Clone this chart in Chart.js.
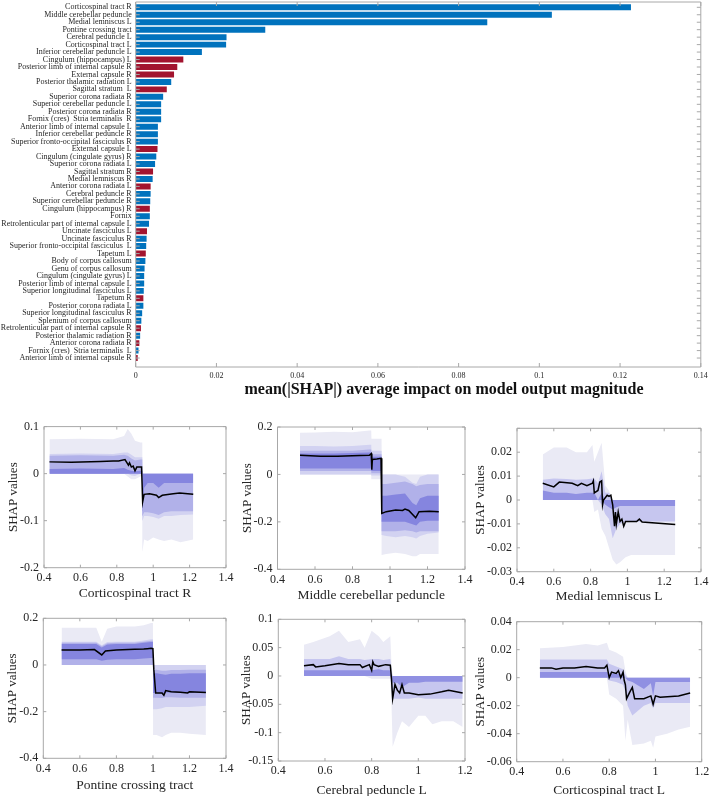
<!DOCTYPE html>
<html><head><meta charset="utf-8">
<script src="https://cdn.jsdelivr.net/npm/chart.js@4/dist/chart.umd.min.js"></script>
<style>
html,body{margin:0;padding:0;background:#fff;}
#wrap{position:relative;width:709px;height:796px;overflow:hidden;background:#fff;}
canvas{position:absolute;}
#barTitle{position:absolute;left:444px;top:389px;transform:translate(-50%,-50%);white-space:nowrap;
 font:bold 16px 'Liberation Serif','Times New Roman',serif;color:#111;}
</style></head><body>
<div id="wrap">
<canvas id="bar" width="709" height="400" style="left:0;top:0"></canvas>
<div id="barTitle">mean(|SHAP|) average impact on model output magnitude</div>
<canvas id="p1"></canvas><canvas id="p2"></canvas><canvas id="p3"></canvas>
<canvas id="p4"></canvas><canvas id="p5"></canvas><canvas id="p6"></canvas>
</div>
<script>
// ---------- bar chart data ----------
const featureNames = [
 "Corticospinal tract R","Middle cerebellar peduncle","Medial lemniscus L","Pontine crossing tract",
 "Cerebral peduncle L","Corticospinal tract L","Inferior cerebellar peduncle L","Cingulum (hippocampus) L",
 "Posterior limb of internal capsule R","External capsule R","Posterior thalamic radiation L","Sagittal stratum  L",
 "Superior corona radiata R","Superior cerebellar peduncle L","Posterior corona radiata R","Fornix (cres)  Stria terminalis  R",
 "Anterior limb of internal capsule L","Inferior cerebellar peduncle R","Superior fronto-occipital fasciculus R","External capsule L",
 "Cingulum (cingulate gyrus) R","Superior corona radiata L","Sagittal stratum R","Medial lemniscus R",
 "Anterior corona radiata L","Cerebral peduncle R","Superior cerebellar peduncle R","Cingulum (hippocampus) R",
 "Fornix","Retrolenticular part of internal capsule L","Uncinate fasciculus L","Uncinate fasciculus R",
 "Superior fronto-occipital fasciculus  L","Tapetum L","Body of corpus callosum","Genu of corpus callosum",
 "Cingulum (cingulate gyrus) L","Posterior limb of internal capsule L","Superior longitudinal fasciculus L","Tapetum R",
 "Posterior corona radiata L","Superior longitudinal fasciculus R","Splenium of corpus callosum","Retrolenticular part of internal capsule R",
 "Posterior thalamic radiation R","Anterior corona radiata R","Fornix (cres)  Stria terminalis  L","Anterior limb of internal capsule R"];
const meanAbsShap = [0.1227,0.1031,0.0871,0.0321,0.0225,0.0224,0.0164,0.0118,0.0103,0.0095,0.0088,0.0077,
 0.0068,0.0063,0.0063,0.0063,0.0055,0.0055,0.0055,0.0054,0.0051,0.0048,0.0043,0.0042,
 0.0037,0.0037,0.0036,0.0035,0.0035,0.0033,0.0028,0.0027,0.0026,0.0025,0.0024,0.0022,
 0.0021,0.0021,0.0020,0.0019,0.0019,0.0016,0.0014,0.0013,0.0011,0.0009,0.0007,0.0005];
const barGroup = [0,0,0,0,0,0,0,1,1,1,0,1,0,0,0,0,0,0,0,1,0,0,1,0,1,0,0,1,0,0,1,0,0,1,0,0,0,0,0,1,0,0,0,1,0,1,0,1];
const groupColors = ['#0072BD','#A2142F'];
const barTicks = [0,0.02,0.04,0.06,0.08,0.1,0.12,0.14];

// ---------- dependence panels ----------
// Panel 1: Corticospinal tract R
const p1X = [0.43,0.6,0.78,0.84,0.86,0.88,0.9,0.93,0.94,0.941,0.95,0.97,1.0,1.03,1.06,1.1,1.15,1.22];
const p1OuterHi = [0.073,0.074,0.073,0.08,0.095,0.085,0.07,0.066,0.066,0,0,0,0,0,0,0,0,0];
const p1OuterLo = [0,0,0,0,-0.006,-0.012,-0.012,-0.006,-0.004,-0.165,-0.14,-0.143,-0.136,-0.14,-0.143,-0.14,-0.146,-0.14];
const p1MidHi = [0.042,0.043,0.042,0.045,0.045,0.04,0.035,0.035,0.035,0,0,0,0,0,0,0,0,0];
const p1MidLo = [0,0,0,0,0,-0.004,-0.005,0,0,-0.1,-0.09,-0.09,-0.092,-0.096,-0.09,-0.09,-0.088,-0.087];
const p1InnerHi = [0.038,0.039,0.038,0.04,0.038,0.032,0.028,0.03,0.03,0,0,0,0,0,0,0,0,0];
const p1InnerLo = [0,0,0,0,0,0,0,0,0,-0.09,-0.082,-0.082,-0.084,-0.088,-0.082,-0.08,-0.08,-0.08];
const p1CoreHi = [0.01,0.011,0.01,0.012,0.008,0.006,0.005,0.006,0.006,0,0,0,0,0,0,0,0,0];
const p1CoreLo = [0,0,0,0,0,0,0,0,0,-0.08,-0.03,-0.02,-0.02,-0.03,-0.02,-0.02,-0.02,-0.02];
const p1LineX = [0.43,0.55,0.71,0.78,0.81,0.845,0.864,0.87,0.88,0.89,0.9,0.91,0.936,0.942,0.95,0.98,1.018,1.03,1.05,1.11,1.145,1.22];
const p1LineY = [0.025,0.024,0.026,0.027,0.027,0.03,0.018,0.023,0.014,0.016,0.006,0.014,0.014,-0.06,-0.044,-0.043,-0.046,-0.051,-0.046,-0.043,-0.041,-0.044];

// Panel 2: Middle cerebellar peduncle
const p2X = [0.52,0.6,0.7,0.8,0.89,0.9,0.901,0.93,0.955,0.956,0.98,1.03,1.08,1.12,1.14,1.16,1.2,1.26];
const p2OuterHi = [0.176,0.177,0.18,0.178,0.185,0.185,0.15,0.15,0.15,0,0,0,0,0,0,0,0,0];
const p2OuterLo = [0,0,0,0,0,0,-0.02,-0.02,-0.02,-0.34,-0.335,-0.33,-0.335,-0.345,-0.345,-0.335,-0.335,-0.335];
const p2MidHi = [0.12,0.12,0.118,0.12,0.125,0.125,0.1,0.1,0.1,0,0,0,-0.01,-0.035,-0.04,-0.01,0,0];
const p2MidLo = [0,0,0,0,0,0,-0.005,-0.005,-0.005,-0.255,-0.26,-0.265,-0.26,-0.265,-0.27,-0.26,-0.25,-0.245];
const p2InnerHi = [0.1,0.1,0.1,0.1,0.105,0.105,0.085,0.085,0.085,-0.04,-0.04,-0.035,-0.03,-0.04,-0.05,-0.045,-0.04,-0.04];
const p2InnerLo = [0.015,0.015,0.015,0.015,0.015,0.015,0.005,0.005,0.005,-0.24,-0.24,-0.24,-0.235,-0.24,-0.245,-0.24,-0.24,-0.24];
const p2CoreHi = [0.088,0.088,0.088,0.09,0.092,0.092,0.075,0.075,0.075,-0.09,-0.09,-0.085,-0.08,-0.12,-0.13,-0.1,-0.09,-0.09];
const p2CoreLo = [0.025,0.025,0.025,0.025,0.025,0.025,0.015,0.015,0.015,-0.2,-0.2,-0.2,-0.2,-0.21,-0.215,-0.2,-0.195,-0.195];
const p2LineX = [0.52,0.63,0.72,0.84,0.89,0.9,0.903,0.906,0.93,0.952,0.956,0.98,1.03,1.067,1.08,1.1,1.137,1.155,1.21,1.26];
const p2LineY = [0.081,0.077,0.077,0.08,0.081,0.088,0.02,0.063,0.065,0.068,-0.164,-0.157,-0.15,-0.152,-0.146,-0.152,-0.183,-0.157,-0.155,-0.157];

// Panel 3: Medial lemniscus L
const p3X = [0.54,0.6,0.67,0.72,0.78,0.81,0.82,0.84,0.86,0.88,0.9,0.92,0.94,0.96,0.99,1.02,1.1,1.26];
const p3OuterHi = [0.019,0.022,0.022,0.02,0.02,0.023,0.016,0.02,0.024,0.006,0.004,0,0,0,0,0,0,0];
const p3OuterLo = [0,0,0,0,0,0,-0.005,-0.004,-0.012,-0.015,-0.02,-0.025,-0.027,-0.026,-0.024,-0.023,-0.023,-0.023];
const p3MidHi = [0.0085,0.009,0.0088,0.0085,0.0087,0.009,0.009,0.007,0.012,0.003,0.003,0,0,0,0,0,0,0];
const p3MidLo = [0,0,0,0,0,0,0,0,-0.002,-0.006,-0.008,-0.016,-0.012,-0.01,-0.009,-0.009,-0.009,-0.009];
const p3InnerHi = [0.004,0.003,0.003,0.0025,0.003,0.003,0.003,0,0.003,0,0,0,0,0,0,0,0,0];
const p3InnerLo = [0,0,0,0,0,0,0,0,0,-0.002,-0.003,-0.004,-0.003,-0.0025,-0.0025,-0.0025,-0.0025,-0.0025];
const p3LineX = [0.54,0.6,0.63,0.7,0.73,0.75,0.78,0.81,0.815,0.82,0.84,0.85,0.86,0.865,0.87,0.89,0.9,0.91,0.92,0.93,0.935,0.94,0.95,0.96,0.97,0.98,0.99,1.0,1.05,1.065,1.08,1.26];
const p3LineY = [0.007,0.0055,0.0075,0.007,0.006,0.007,0.006,0.007,0.008,0.003,0.004,0.0075,0.008,-0.002,0,0.002,0.0015,0.002,-0.002,-0.011,-0.005,-0.01,-0.005,-0.009,-0.008,-0.011,-0.009,-0.009,-0.009,-0.008,-0.0092,-0.0102];

// Panel 4: Pontine crossing tract
const p4X = [0.5,0.6,0.69,0.72,0.75,0.8,0.9,0.95,0.99,1.0,1.001,1.02,1.05,1.07,1.1,1.15,1.2,1.29];
const p4OuterHi = [0.16,0.16,0.16,0.1,0.155,0.165,0.165,0.17,0.18,0.18,0,0,0,0,0,0,0,0];
const p4OuterLo = [0,0,0,0,0,0,0,0,0,0,-0.3,-0.3,-0.31,-0.3,-0.29,-0.29,-0.295,-0.3];
const p4MidHi = [0.1,0.1,0.1,0.085,0.098,0.1,0.1,0.105,0.11,0.11,0,0,0,0,0,0,0,0];
const p4MidLo = [0,0,0,0,0,0,0,0,0,0,-0.19,-0.19,-0.185,-0.18,-0.18,-0.18,-0.18,-0.175];
const p4InnerHi = [0.095,0.095,0.095,0.08,0.093,0.095,0.095,0.1,0.104,0.104,-0.02,-0.02,-0.025,-0.025,-0.022,-0.022,-0.02,-0.02];
const p4InnerLo = [0,0,0,0,0,0,0,0,0,0,-0.14,-0.14,-0.142,-0.138,-0.138,-0.14,-0.14,-0.14];
const p4CoreHi = [0.09,0.09,0.09,0.075,0.088,0.09,0.09,0.095,0.098,0.098,-0.036,-0.036,-0.04,-0.042,-0.038,-0.038,-0.036,-0.036];
const p4CoreLo = [0.025,0.025,0.025,0.018,0.022,0.025,0.025,0.028,0.03,0.03,-0.12,-0.12,-0.122,-0.118,-0.118,-0.12,-0.12,-0.12];
const p4LineX = [0.5,0.6,0.68,0.72,0.74,0.8,0.9,0.95,0.97,0.99,1.0,1.005,1.015,1.05,1.06,1.07,1.1,1.15,1.19,1.2,1.29];
const p4LineY = [0.064,0.064,0.066,0.043,0.06,0.064,0.067,0.068,0.07,0.072,0.07,-0.02,-0.12,-0.12,-0.13,-0.11,-0.115,-0.117,-0.12,-0.115,-0.118];

// Panel 5: Cerebral peduncle L
const p5X = [0.51,0.55,0.62,0.66,0.7,0.75,0.77,0.8,0.83,0.85,0.88,0.885,0.89,0.91,0.93,0.96,1.0,1.03,1.06,1.1,1.15,1.19];
const p5OuterHi = [0.055,0.06,0.07,0.08,0.06,0.065,0.05,0.08,0.07,0.06,0.07,0.02,0,0,0,0,0,0,0,0,0,0];
const p5OuterLo = [0,0,0,0,0,0,0,-0.005,-0.005,-0.005,-0.005,-0.05,-0.125,-0.1,-0.08,-0.09,-0.07,-0.07,-0.085,-0.08,-0.08,-0.09];
const p5MidHi = [0.03,0.03,0.03,0.035,0.03,0.03,0.028,0.03,0.03,0.028,0.03,0.01,0,0,0,0,0,0,0,0,0,0];
const p5MidLo = [0,0,0,0,0,0,0,0,0,0,0,-0.02,-0.04,-0.04,-0.04,-0.04,-0.038,-0.04,-0.04,-0.04,-0.04,-0.04];
const p5InnerHi = [0.01,0.01,0.01,0.01,0.01,0.01,0.01,0.01,0.012,0.01,0.01,0,0,0,0,0,0,0,0,0,0,0];
const p5InnerLo = [0,0,0,0,0,0,0,0,0,0,0,-0.005,-0.012,-0.012,-0.02,-0.012,-0.012,-0.01,-0.01,-0.01,-0.01,-0.01];
const p5LineX = [0.51,0.55,0.56,0.6,0.66,0.7,0.75,0.76,0.79,0.8,0.805,0.81,0.83,0.86,0.88,0.885,0.89,0.9,0.91,0.92,0.93,0.94,0.96,1.0,1.05,1.1,1.13,1.19];
const p5LineY = [0.018,0.02,0.016,0.018,0.022,0.02,0.02,0.015,0.02,0.01,0.025,0.02,0.017,0.02,0.019,-0.005,-0.04,-0.015,-0.025,-0.03,-0.015,-0.03,-0.03,-0.033,-0.032,-0.028,-0.025,-0.03];

// Panel 6: Corticospinal tract L
const p6X = [0.5,0.6,0.7,0.75,0.79,0.8,0.83,0.86,0.87,0.88,0.9,0.95,0.98,0.99,1.0,1.05,1.1,1.15];
const p6OuterHi = [0.021,0.022,0.024,0.023,0.025,0.02,0.018,0.015,0.005,0,0,0,0,0,0,0,0,0];
const p6OuterLo = [0,0,0,0,0,-0.012,-0.015,-0.02,-0.045,-0.03,-0.048,-0.047,-0.045,-0.05,-0.042,-0.04,-0.037,-0.035];
const p6MidHi = [0.013,0.013,0.013,0.013,0.013,0.01,0.008,0.006,0.002,0,0,0,0,0,0,0,0,0];
const p6MidLo = [0,0,0,0,0,-0.002,-0.003,-0.005,-0.01,-0.02,-0.027,-0.02,-0.018,-0.022,-0.018,-0.018,-0.018,-0.018];
const p6InnerHi = [0.004,0.004,0.004,0.004,0.004,0.003,0.003,0.002,0,0,0,0,0,0,0,0,0,0];
const p6InnerLo = [0,0,0,0,0,0,0,0,0,-0.002,-0.003,-0.008,-0.004,-0.013,-0.003,-0.003,-0.003,-0.003];
const p6LineX = [0.5,0.55,0.57,0.6,0.65,0.7,0.75,0.78,0.79,0.8,0.81,0.83,0.84,0.85,0.86,0.865,0.87,0.875,0.89,0.9,0.91,0.95,0.98,0.99,1.0,1.02,1.1,1.15];
const p6LineY = [0.007,0.007,0.006,0.007,0.007,0.008,0.007,0.007,0.009,0,0.004,0.003,0.005,0,0.004,-0.002,-0.005,-0.015,-0.01,-0.007,-0.015,-0.015,-0.013,-0.019,-0.013,-0.014,-0.013,-0.011];

// ---------- rendering ----------
const SERIF = "'Liberation Serif','Times New Roman',serif";
const INK = '#262626';
const FRAME = '#a8a8a8';
const C4 = ['#eaeaf5','#d2d2f1','#b1b1e9','#8585df'];
const C3 = ['#eaeaf5','#c6c6ef','#9090e2'];
function fmt(v){ return String(Number(Number(v).toFixed(4))); }

const frameTicks = {
  id: 'frameTicks',
  afterDatasetsDraw(chart, args, o) {
    const {ctx, chartArea: a} = chart;
    const xs = chart.scales.x, ys = chart.scales.y;
    ctx.save();
    ctx.strokeStyle = o.color; ctx.lineWidth = 1;
    ctx.beginPath();
    ctx.rect(a.left, a.top, a.right - a.left, a.bottom - a.top);
    const L = o.len;
    xs.ticks.forEach(t => { const p = xs.getPixelForValue(t.value);
      ctx.moveTo(p, a.bottom); ctx.lineTo(p, a.bottom - L); ctx.moveTo(p, a.top); ctx.lineTo(p, a.top + L); });
    ys.ticks.forEach(t => { const p = ys.getPixelForValue(t.value);
      ctx.moveTo(a.left, p); ctx.lineTo(a.left + L, p); ctx.moveTo(a.right, p); ctx.lineTo(a.right - L, p); });
    ctx.stroke(); ctx.restore();
  }
};
const noGrid = {display: false, drawTicks: false};

// Bar chart
new Chart(document.getElementById('bar'), {
  type: 'bar',
  data: { datasets: [{
    data: meanAbsShap.map((v, i) => ({x: v, y: i + 1})),
    backgroundColor: barGroup.map(g => groupColors[g]),
    borderWidth: 0, categoryPercentage: 1, barPercentage: 0.8
  }]},
  options: {
    indexAxis: 'y', responsive: false, animation: false,
    layout: {padding: {top: 2, right: 8.2, left: 0, bottom: 0}},
    plugins: {legend: {display: false}, tooltip: {enabled: false}, frameTicks: {color: FRAME, len: 4}},
    scales: {
      x: {type: 'linear', min: 0, max: 0.14,
        afterBuildTicks(s){ s.ticks = barTicks.map(v => ({value: v})); },
        ticks: {callback: fmt, font: {family: SERIF, size: 8}, color: INK, padding: 4, maxRotation: 0, autoSkip: false},
        grid: noGrid, border: {display: false},
        afterFit(s){ s.height = 33; s.paddingLeft = 0; s.paddingRight = 0; }},
      y: {type: 'linear', reverse: true, min: 0.29, max: 49.2, offset: false,
        afterBuildTicks(s){ s.ticks = featureNames.map((_, i) => ({value: i + 1})); },
        ticks: {callback: v => featureNames[v - 1] || '', font: {family: SERIF, size: 8}, color: INK, padding: 4, autoSkip: false},
        grid: noGrid, border: {display: false},
        afterFit(s){ s.width = 135.7; s.paddingTop = 0; s.paddingBottom = 0; }}
    }
  },
  plugins: [frameTicks]
});

function makePanel(id, g, d) {
  const cl = Math.floor(g.L) - 46, ct = Math.floor(g.T) - 12;
  const cw = Math.min(709, Math.ceil(g.R) + 10) - cl, chh = Math.ceil(g.B) + 44 - ct;
  const cv = document.getElementById(id);
  cv.width = cw; cv.height = chh; cv.style.left = cl + 'px'; cv.style.top = ct + 'px';
  const xLH = 13.5 * 1.2, yLH = 13 * 1.2;
  const datasets = [{data: d.lineX.map((x, i) => ({x, y: d.lineY[i]})), borderColor: '#000', borderWidth: 1.5, pointRadius: 0, fill: false}];
  const bands = d.bands.slice().reverse(); // inner first so it is drawn on top
  bands.forEach(b => {
    const loIdx = datasets.length;
    datasets.push({data: d.x.map((x, i) => ({x, y: b.lo[i]})), borderWidth: 0, borderColor: 'rgba(0,0,0,0)', pointRadius: 0, fill: false});
    datasets.push({data: d.x.map((x, i) => ({x, y: b.hi[i]})), borderWidth: 0, borderColor: 'rgba(0,0,0,0)', pointRadius: 0, fill: loIdx, backgroundColor: b.color});
  });
  new Chart(cv, {type: 'line', data: {datasets}, options: {
    responsive: false, animation: false,
    layout: {padding: {left: 0, top: g.T - ct, right: cl + cw - g.R, bottom: 0}},
    plugins: {legend: {display: false}, tooltip: {enabled: false}, frameTicks: {color: FRAME, len: 3}},
    elements: {line: {tension: 0}},
    scales: {
      x: {type: 'linear', min: 0.4, max: g.xMax,
        ticks: {stepSize: 0.2, callback: fmt, font: {family: SERIF, size: 12}, color: INK, padding: 3, maxRotation: 0, autoSkip: false},
        grid: noGrid, border: {display: false},
        title: {display: true, text: d.title, font: {family: SERIF, size: 13.5}, color: INK,
          padding: {top: 0, bottom: (ct + chh) - xLH / 2 - (g.B + g.d)}},
        afterFit(s){ s.height = ct + chh - g.B; s.paddingLeft = 0; s.paddingRight = 0; }},
      y: {type: 'linear', min: g.yMin, max: g.yMax,
        ticks: {stepSize: g.yStep, callback: v => (g.hideTop && v > g.yMax - g.yStep / 2) ? '' : fmt(v),
          font: {family: SERIF, size: 12}, color: INK, padding: 5, autoSkip: false},
        grid: noGrid, border: {display: false},
        title: {display: true, text: 'SHAP values', font: {family: SERIF, size: 13}, color: INK,
          padding: {top: g.L - g.e - cl - yLH / 2, bottom: 0}},
        afterFit(s){ s.width = g.L - cl; s.paddingTop = 0; s.paddingBottom = 0; }}
    }
  }, plugins: [frameTicks]});
}

makePanel('p1', {L: 44, R: 226, T: 426.6, B: 567.7, xMax: 1.4, yMin: -0.2, yMax: 0.1, yStep: 0.1, d: 26, e: 30.7},
  {title: 'Corticospinal tract R', x: p1X, lineX: p1LineX, lineY: p1LineY, bands: [
    {lo: p1OuterLo, hi: p1OuterHi, color: C4[0]}, {lo: p1MidLo, hi: p1MidHi, color: C4[1]},
    {lo: p1InnerLo, hi: p1InnerHi, color: C4[2]}, {lo: p1CoreLo, hi: p1CoreHi, color: C4[3]}]});
makePanel('p2', {L: 277.5, R: 465, T: 427, B: 569.3, xMax: 1.4, yMin: -0.4, yMax: 0.2, yStep: 0.2, d: 25.7, e: 30},
  {title: 'Middle cerebellar peduncle', x: p2X, lineX: p2LineX, lineY: p2LineY, bands: [
    {lo: p2OuterLo, hi: p2OuterHi, color: C4[0]}, {lo: p2MidLo, hi: p2MidHi, color: C4[1]},
    {lo: p2InnerLo, hi: p2InnerHi, color: C4[2]}, {lo: p2CoreLo, hi: p2CoreHi, color: C4[3]}]});
makePanel('p3', {L: 517, R: 701, T: 428.3, B: 571.7, xMax: 1.4, yMin: -0.03, yMax: 0.03, yStep: 0.01, d: 25, e: 36.3, hideTop: true},
  {title: 'Medial lemniscus L', x: p3X, lineX: p3LineX, lineY: p3LineY, bands: [
    {lo: p3OuterLo, hi: p3OuterHi, color: C3[0]}, {lo: p3MidLo, hi: p3MidHi, color: C3[1]},
    {lo: p3InnerLo, hi: p3InnerHi, color: C3[2]}]});
makePanel('p4', {L: 43.3, R: 226, T: 618.3, B: 758.3, xMax: 1.4, yMin: -0.4, yMax: 0.2, yStep: 0.2, d: 26.7, e: 30.6},
  {title: 'Pontine crossing tract', x: p4X, lineX: p4LineX, lineY: p4LineY, bands: [
    {lo: p4OuterLo, hi: p4OuterHi, color: C4[0]}, {lo: p4MidLo, hi: p4MidHi, color: C4[1]},
    {lo: p4InnerLo, hi: p4InnerHi, color: C4[2]}, {lo: p4CoreLo, hi: p4CoreHi, color: C4[3]}]});
makePanel('p5', {L: 278.3, R: 465, T: 619.3, B: 761, xMax: 1.2, yMin: -0.15, yMax: 0.1, yStep: 0.05, d: 29, e: 31.6},
  {title: 'Cerebral peduncle L', x: p5X, lineX: p5LineX, lineY: p5LineY, bands: [
    {lo: p5OuterLo, hi: p5OuterHi, color: C3[0]}, {lo: p5MidLo, hi: p5MidHi, color: C3[1]},
    {lo: p5InnerLo, hi: p5InnerHi, color: C3[2]}]});
makePanel('p6', {L: 516.7, R: 701.7, T: 621.7, B: 761.7, xMax: 1.2, yMin: -0.06, yMax: 0.04, yStep: 0.02, d: 29, e: 35.7},
  {title: 'Corticospinal tract L', x: p6X, lineX: p6LineX, lineY: p6LineY, bands: [
    {lo: p6OuterLo, hi: p6OuterHi, color: C3[0]}, {lo: p6MidLo, hi: p6MidHi, color: C3[1]},
    {lo: p6InnerLo, hi: p6InnerHi, color: C3[2]}]});
</script>
</body></html>
